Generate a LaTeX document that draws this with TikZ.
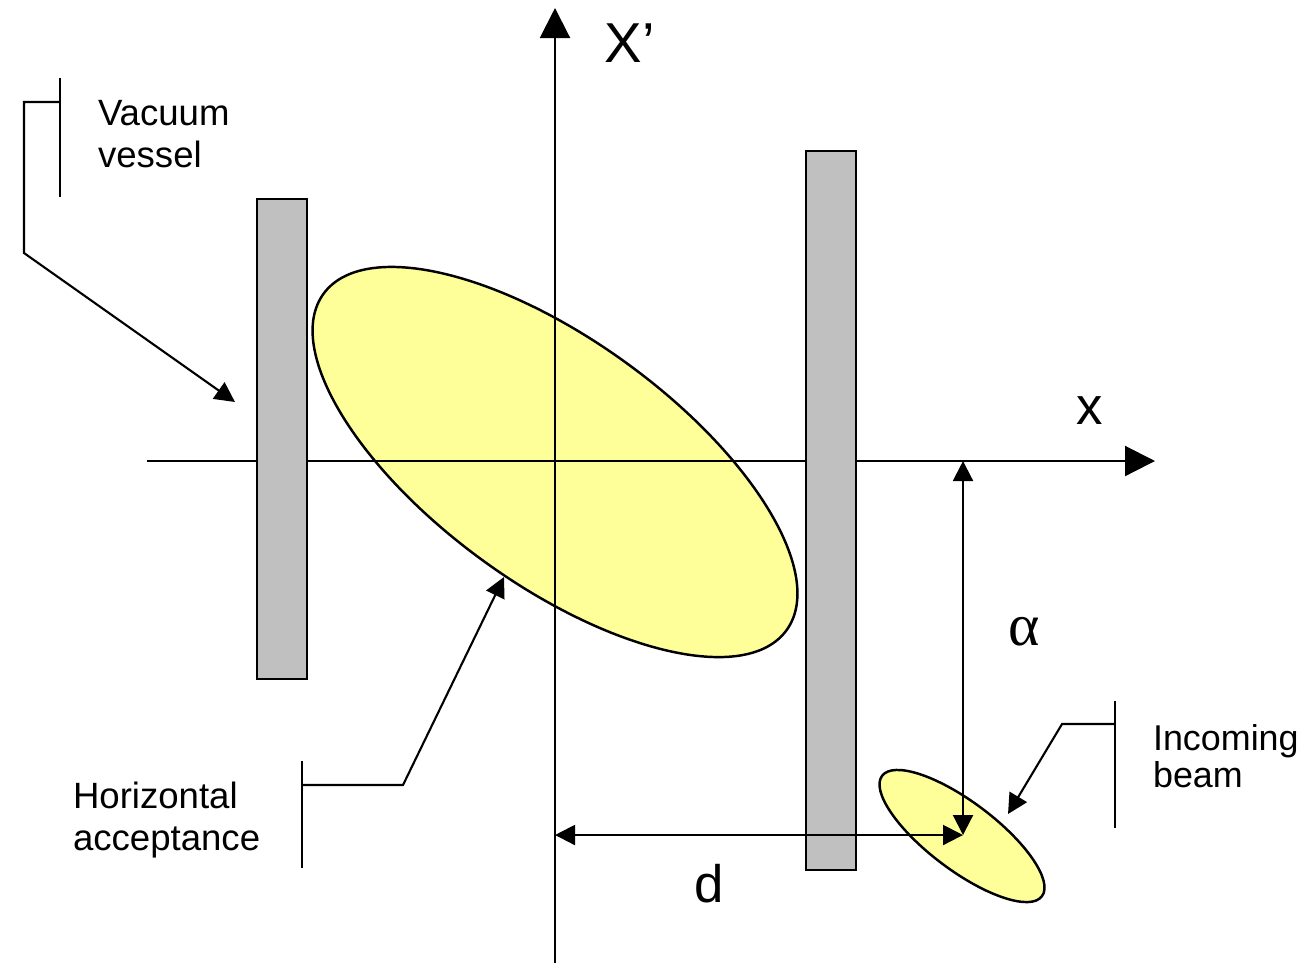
\documentclass[tikz,border=0pt]{standalone}
\usepackage{fontspec}
\setmainfont{Liberation Sans}
\newfontfamily\greekfont{Liberation Serif}
\usetikzlibrary{arrows.meta,positioning,shapes.geometric}
\definecolor{wallgray}{RGB}{192,192,192}
\definecolor{beamyellow}{RGB}{255,255,153}

\begin{document}
\begin{tikzpicture}[x=0.01cm,y=-0.01cm,line width=0.6pt,>={Triangle[length=2mm,width=2mm]},
 axis/.style={-{Triangle[length=3mm,width=3mm]}},
 wall/.style={draw,fill=wallgray,line width=0.5pt,inner sep=0pt,minimum width=0.5cm,anchor=north west},
 blob/.style={draw,ellipse,fill=beamyellow,inner sep=0pt,line width=0.7pt},
 lbl/.style={align=left,inner sep=0pt,anchor=west,font=\fontsize{10.4}{12}\selectfont}]
\useasboundingbox (0,0) rectangle (1316,963);
% acceptance ellipse
\node[blob,minimum width=5.72cm,minimum height=2.44cm,rotate=-36] (acc) at (555,462) {};
% axes
\coordinate (xl) at (147,461);
\coordinate (xr) at (1155,461);
\coordinate (yb) at (555,963);
\coordinate (yt) at (555,8);
\draw[axis] (xl) -- (xr);
\draw[axis] (yb) -- (yt);
\node[font=\fontsize{16}{16}\selectfont] (xplab) at (630,43) {X’};
\node[font=\fontsize{15}{15}\selectfont] (xlab) at (1090,411) {x};
% vessel walls
\node[wall,minimum height=4.8cm] (wallL) at (256,198) {};
\node[wall,minimum height=7.19cm] (wallR) at (805,150) {};
% incoming beam
\node[blob,minimum width=2cm,minimum height=0.68cm,rotate=-37] (beam) at (962,836) {};
% offsets
\coordinate (tgt) at (963,835);
\coordinate (dl) at (555,835);
\coordinate (at) at (963,461);
\draw[<->] (dl) -- (tgt);
\draw[<->] (at) -- (tgt);
\node[font=\fontsize{15}{15}\selectfont] (dlab) at (709,884) {d};
\node[font=\greekfont\fontsize{17}{17}\selectfont] (alab) at (1024,632) {α};
% leaders
\coordinate (v1) at (60,78);
\coordinate (v2) at (60,197);
\coordinate (v3) at (60,102);
\coordinate (v4) at (24,102);
\coordinate (v5) at (24,253);
\coordinate (v6) at (235,402);
\draw (v1) -- (v2);
\draw[->] (v3) -- (v4) -- (v5) -- (v6);
\coordinate (h1) at (302,761);
\coordinate (h2) at (302,868);
\coordinate (h3) at (302,785);
\coordinate (h4) at (403,785);
\coordinate (h5) at (504,577);
\draw (h1) -- (h2);
\draw[->] (h3) -- (h4) -- (h5);
\coordinate (b1) at (1115,701);
\coordinate (b2) at (1115,828);
\coordinate (b3) at (1115,724);
\coordinate (b4) at (1062,724);
\coordinate (b5) at (1008,814);
\draw (b1) -- (b2);
\draw[->] (b3) -- (b4) -- (b5);
\node[lbl] (vacuum) at (97,134) {Vacuum\\vessel};
\node[lbl] (accept) at (72,820) {Horizontal\\acceptance};
\node[lbl,font=\fontsize{10.2}{10.5}\selectfont] (incoming) at (1152,756) {Incoming\\beam};
\end{tikzpicture}
\end{document}
